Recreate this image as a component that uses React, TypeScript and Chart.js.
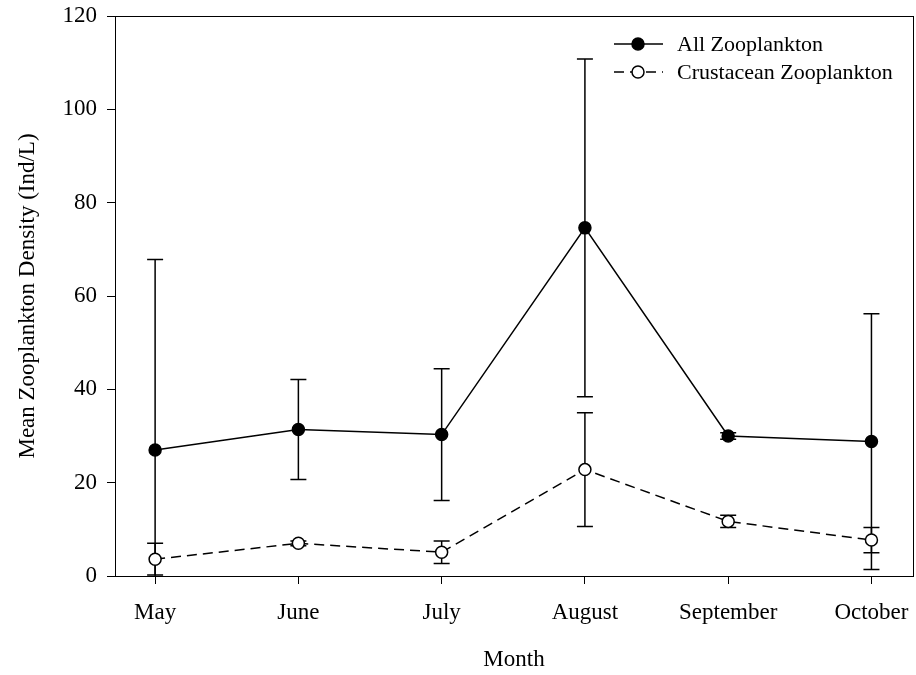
import React, { useEffect, useRef } from "react";
import { Chart, registerables } from "chart.js";

Chart.register(...registerables);

const months = ["May", "June", "July", "August", "September", "October"];
const allMean = [27.0, 31.4, 30.3, 74.6, 30.0, 28.8];
const allErr = [40.8, 10.7, 14.1, 36.2, 0.7, 27.4];
const crustMean = [3.6, 7.0, 5.1, 22.8, 11.7, 7.7];
const crustErr = [3.4, 0.5, 2.4, 12.2, 1.3, 2.7];
const yTicks = [0, 20, 40, 60, 80, 100, 120];
const seriesNames = ["All Zooplankton", "Crustacean Zooplankton"];

const FONT = "'Liberation Serif', 'Times New Roman', serif";
const FS = 23;
const LFS = 22;

const errorBarPlugin = {
  id: "errorBars",
  beforeDatasetsDraw(chart: any) {
    const { ctx, chartArea, scales } = chart;
    const x = scales.x;
    const y = scales.y;
    ctx.save();
    ctx.beginPath();
    ctx.rect(chartArea.left, chartArea.top, chartArea.right - chartArea.left, chartArea.bottom - chartArea.top);
    ctx.clip();
    ctx.strokeStyle = "#000";
    ctx.lineWidth = 1.5;
    const sets = [
      [allMean, allErr],
      [crustMean, crustErr],
    ];
    sets.forEach(([means, errs]) => {
      means.forEach((m, i) => {
        const px = x.getPixelForValue(i + 1);
        const hi = y.getPixelForValue(m + errs[i]);
        const lo = y.getPixelForValue(m - errs[i]);
        ctx.beginPath();
        ctx.moveTo(px, hi);
        ctx.lineTo(px, lo);
        ctx.moveTo(px - 8, hi);
        ctx.lineTo(px + 8, hi);
        ctx.moveTo(px - 8, lo);
        ctx.lineTo(px + 8, lo);
        ctx.stroke();
      });
    });
    ctx.restore();
  },
};

const framePlugin = {
  id: "frame",
  afterDraw(chart: any) {
    const { ctx, chartArea } = chart;
    ctx.save();
    ctx.strokeStyle = "#000";
    ctx.lineWidth = 1;
    ctx.strokeRect(
      Math.round(chartArea.left) + 0.5,
      Math.round(chartArea.top) + 0.5,
      Math.round(chartArea.right - chartArea.left),
      Math.round(chartArea.bottom - chartArea.top)
    );
    const rows = [44, 72];
    rows.forEach((ry, i) => {
      ctx.strokeStyle = "#000";
      ctx.lineWidth = 1.5;
      ctx.setLineDash(i === 0 ? [] : [10, 6]);
      ctx.beginPath();
      ctx.moveTo(614, ry);
      ctx.lineTo(663, ry);
      ctx.stroke();
      ctx.setLineDash([]);
      ctx.beginPath();
      ctx.arc(638, ry, 6, 0, Math.PI * 2);
      ctx.fillStyle = i === 0 ? "#000" : "#fff";
      ctx.fill();
      ctx.lineWidth = 1.5;
      ctx.stroke();
      ctx.fillStyle = "#000";
      ctx.font = `${LFS}px ${FONT}`;
      ctx.textAlign = "left";
      ctx.textBaseline = "middle";
      ctx.fillText(seriesNames[i], 677, ry + 1);
    });
    ctx.restore();
  },
};

export default function App() {
  const ref = useRef<HTMLCanvasElement>(null);
  useEffect(() => {
    if (!ref.current) return;
    const chart = new Chart(ref.current, {
      type: "line",
      data: {
        datasets: [
          {
            label: seriesNames[0],
            data: allMean.map((v, i) => ({ x: i + 1, y: v })),
            borderColor: "#000",
            borderWidth: 1.5,
            pointRadius: 6,
            pointBackgroundColor: "#000",
            pointBorderColor: "#000",
            pointBorderWidth: 1.5,
            tension: 0,
          },
          {
            label: seriesNames[1],
            data: crustMean.map((v, i) => ({ x: i + 1, y: v })),
            borderColor: "#000",
            borderWidth: 1.5,
            borderDash: [10, 6],
            pointRadius: 6,
            pointBackgroundColor: "#fff",
            pointBorderColor: "#000",
            pointBorderWidth: 1.5,
            tension: 0,
          },
        ],
      },
      options: {
        animation: false,
        responsive: false,
        layout: { autoPadding: false, padding: { left: 0, top: 16, right: 3, bottom: 0 } },
        plugins: { legend: { display: false }, tooltip: { enabled: false } },
        scales: {
          x: {
            type: "linear",
            min: 0.72,
            max: 6.29,
            afterFit: (s: any) => {
              s.height = 99;
              s.paddingLeft = 0;
              s.paddingRight = 0;
            },
            afterBuildTicks: (s: any) => {
              s.ticks = months.map((_, i) => ({ value: i + 1 }));
            },
            grid: { display: true, drawOnChartArea: false, drawTicks: true, tickLength: 8, color: "#000" },
            border: { display: true, color: "#000", width: 1 },
            ticks: {
              color: "#000",
              font: { family: FONT, size: FS },
              padding: 15,
              maxRotation: 0,
              autoSkip: false,
              callback: (v: any) => months[Math.round(Number(v)) - 1] ?? "",
            },
            title: {
              display: true,
              text: "Month",
              color: "#000",
              font: { family: FONT, size: FS },
              padding: { top: 0, bottom: 1 },
            },
          },
          y: {
            type: "linear",
            min: 0,
            max: 120,
            afterFit: (s: any) => {
              s.width = 115;
              s.paddingTop = 0;
              s.paddingBottom = 0;
            },
            afterBuildTicks: (s: any) => {
              s.ticks = yTicks.map((v) => ({ value: v }));
            },
            grid: { display: true, drawOnChartArea: false, drawTicks: true, tickLength: 8, color: "#000" },
            border: { display: true, color: "#000", width: 1 },
            ticks: {
              color: "#000",
              font: { family: FONT, size: FS },
              padding: 10,
            },
            title: {
              display: true,
              text: "Mean Zooplankton Density (Ind/L)",
              color: "#000",
              font: { family: FONT, size: FS },
              padding: { top: 14, bottom: 0 },
            },
          },
        },
      },
      plugins: [errorBarPlugin, framePlugin],
    });
    return () => chart.destroy();
  }, []);
  return (
    <div style={{ position: "fixed", left: 0, top: 0, width: 916, height: 675, background: "#fff" }}>
      <canvas ref={ref} width={916} height={675} style={{ display: "block" }} />
    </div>
  );
}
